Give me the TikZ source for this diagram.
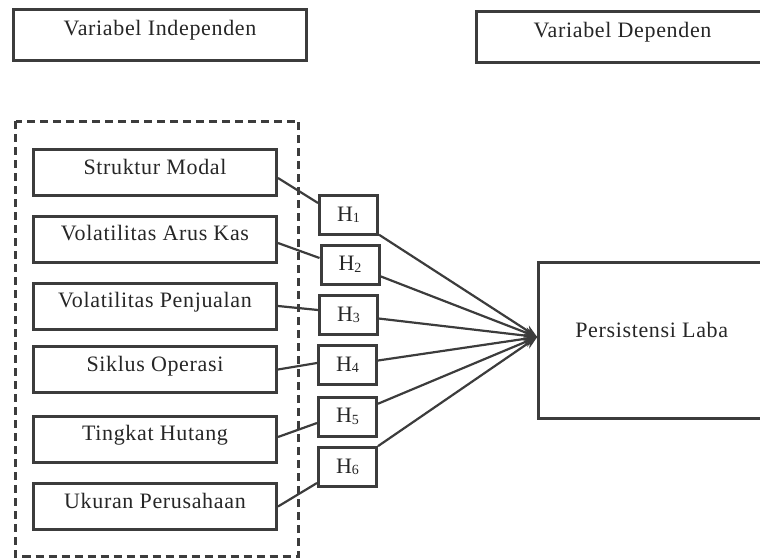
\documentclass[tikz,border=0pt]{standalone}
\usepackage{fontspec}
\setmainfont[LetterSpace=3]{Liberation Serif}
\usepackage{xcolor}
\usepackage{tikz}
\usetikzlibrary{arrows.meta}

\definecolor{boxgray}{HTML}{3C3C3C}
\definecolor{textgray}{HTML}{262626}

\newcommand{\hyp}[1]{H\raisebox{-1.5pt}{\fontsize{14pt}{14pt}\selectfont #1}}

\tikzset{
    varbox/.style={draw=boxgray, line width=3pt, rectangle, text=textgray, inner sep=0pt,
        minimum width=243pt, text height=24.5pt, text depth=21.5pt},
    headbox/.style={varbox, minimum width=293pt, text height=26pt, text depth=25pt},
    hypbox/.style={draw=boxgray, line width=3pt, rectangle, text=textgray, inner sep=0pt,
        minimum width=58pt, minimum height=39pt},
    link/.style={draw=boxgray, line width=2.2pt},
    groupbox/.style={draw=boxgray, line width=3pt, dash pattern=on 8pt off 5pt},
    >={Stealth[length=13pt,width=10pt]}
}

\begin{document}
\begin{tikzpicture}[x=1pt, y=-1pt, font=\fontsize{22pt}{26pt}\selectfont]
                \useasboundingbox (0,0) rectangle (760,557);
                % headers
                \node[headbox] (indep) at (160,34.5) {Variabel Independen};
                \node[headbox] (dep) at (622.5,36.5) {Variabel Dependen};
                % independent variables
                \draw[groupbox] (15.5,121) rectangle (298.5,556);
                \node[varbox] (struktur) at (155,172.5) {Struktur Modal};
                \node[varbox] (arus) at (155,239) {Volatilitas Arus Kas};
                \node[varbox] (penjualan) at (155,306) {Volatilitas Penjualan};
                \node[varbox] (siklus) at (155,369.5) {Siklus Operasi};
                \node[varbox] (hutang) at (155,439) {Tingkat Hutang};
                \node[varbox] (ukuran) at (155,506.5) {Ukuran Perusahaan};
                % hypotheses
                \node[hypbox] (h1) at (348.5,215) {\hyp{1}};
                \node[hypbox] (h2) at (350,264.5) {\hyp{2}};
                \node[hypbox] (h3) at (348.5,315) {\hyp{3}};
                \node[hypbox] (h4) at (347.5,365) {\hyp{4}};
                \node[hypbox] (h5) at (347.5,416.5) {\hyp{5}};
                \node[hypbox] (h6) at (347.5,467) {\hyp{6}};
                % dependent variable
                \node[varbox, minimum width=226pt, text height=74.5pt, text depth=81.5pt] (laba) at (651.7,340.5) {Persistensi Laba};
                \draw[link] ([yshift=-5.5pt]struktur.east) -- ([yshift=12pt]h1.west);
                \draw[link] ([yshift=-4pt]arus.east) -- ([yshift=6.5pt]h2.west);
                \draw[link] (penjualan.east) -- ([yshift=5pt]h3.west);
                \draw[link] (siklus.east) -- ([yshift=2pt]h4.west);
                \draw[link] ([yshift=2pt]hutang.east) -- ([yshift=-6.5pt]h5.west);
                \draw[link] (ukuran.east) -- ([yshift=-16pt]h6.west);
                \foreach \h in {h1,h2,h3,h4,h5,h6}
                    \draw[link, ->] (\h) -- (laba.base west);
            \end{tikzpicture}
\end{document}
